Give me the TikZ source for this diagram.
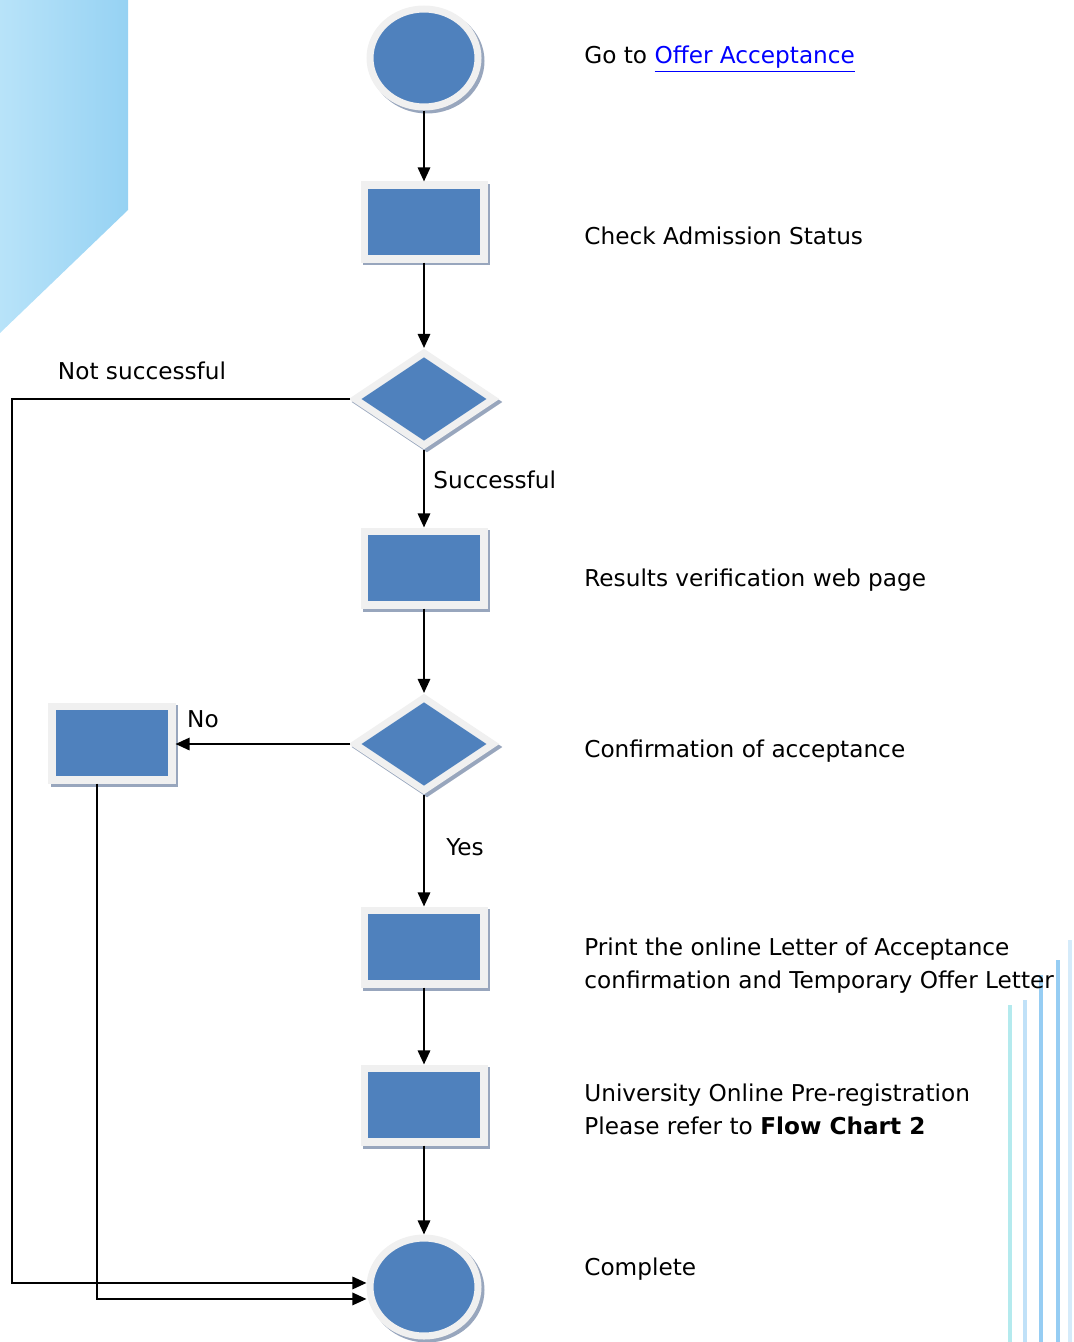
\documentclass[tikz,border=0pt]{standalone}
\usepackage{fontspec}
\setmainfont{DejaVu Sans}
\usetikzlibrary{arrows.meta,shapes.geometric,positioning}

\definecolor{boxblue}{RGB}{79,129,189}
\definecolor{rimgrey}{RGB}{240,240,240}
\definecolor{shadowgrey}{RGB}{152,166,189}
\definecolor{linkblue}{RGB}{0,0,255}
\definecolor{skyleft}{RGB}{184,227,249}
\definecolor{skyright}{RGB}{150,210,243}
\definecolor{stripecyan}{RGB}{180,234,238}
\definecolor{stripeblue}{RGB}{150,205,243}

\begin{document}
\begin{tikzpicture}[x=0.02cm,y=-0.02cm,
  every node/.style={font=\fontsize{13.2}{18.7}\selectfont},
  chartshape/.style={fill=boxblue,draw=rimgrey,line width=4pt,inner sep=0pt,
    preaction={draw=shadowgrey,line width=4pt,transform canvas={xshift=1.7pt,yshift=-1.7pt}}},
  termnode/.style={chartshape,ellipse,minimum width=2.16cm,minimum height=1.96cm},
  procbox/.style={chartshape,rectangle,minimum width=2.4cm,minimum height=1.48cm},
  decbox/.style={chartshape,diamond,minimum width=2.82cm,minimum height=1.9cm},
  note/.style={anchor=west,inner sep=0pt,align=left},
  flow/.style={line width=1.25pt,-{Triangle[length=8pt,width=7pt]}}]
\useasboundingbox (0,0) rectangle (1073,1342);

% background
\shade[left color=skyleft,right color=skyright] (0,0) -- (128,0) -- (128,210) -- (0,333) -- cycle;
\foreach \x/\top/\col in {1010/1005/stripecyan,1025/1000/stripeblue!60,1041/975/stripeblue,1058/960/stripeblue,1070/940/stripeblue!40}
  \draw[\col,line width=2pt] (\x,\top) -- (\x,1342);

% chart
\node[termnode] (start) at (424,58) {};
\node[procbox] (check) at (424,222) {};
\node[decbox] (admit) at (424,399) {};
\node[procbox] (verify) at (424,568) {};
\node[decbox] (confirm) at (424,744) {};
\node[procbox] (reject) at (112,743) {};
\node[procbox] (print) at (424,947) {};
\node[procbox] (prereg) at (424,1105) {};
\node[termnode] (finish) at (424,1287) {};

\node (nslabel) at (142,371) {Not successful};
\node[anchor=west,inner sep=0pt] (oklabel) at (433,480) {Successful};
\node (nolabel) at (203,719) {No};
\node (yeslabel) at (465,847) {Yes};

\node[note] (gotext) at (584,59) {Go to \textcolor{linkblue}{\underline{Offer Acceptance}}};
\node[note] (checktext) at (584,236) {Check Admission Status};
\node[note] (verifytext) at (584,580) {Results verification web page};
\node[note] (confirmtext) at (584,751) {Confirmation of acceptance};
\node[note] (printtext) at (584,966) {Print the online Letter of Acceptance\\confirmation and Temporary Offer Letter};
\node[note] (preregtext) at (584,1109) {University Online Pre-registration\\Please refer to \textbf{Flow Chart 2}};
\node[note] (donetext) at (584,1269) {Complete};

\coordinate (leftrail) at (12,399);
\draw[flow] (start) -- (check);
\draw[flow] (check) -- (admit);
\draw[flow] (admit) -- (verify);
\draw[flow] (verify) -- (confirm);
\draw[flow] (confirm.west) -- (confirm.west -| reject.east);
\draw[flow] (confirm) -- (print);
\draw[flow] (print) -- (prereg);
\draw[flow] (prereg) -- (finish);
\draw[flow] (admit.west) -- (leftrail) |- ([yshift=2.3pt]finish.west);
\draw[flow] ([xshift=-8.5pt]reject.south) |- ([yshift=-6.8pt]finish.west);
\end{tikzpicture}
\end{document}
